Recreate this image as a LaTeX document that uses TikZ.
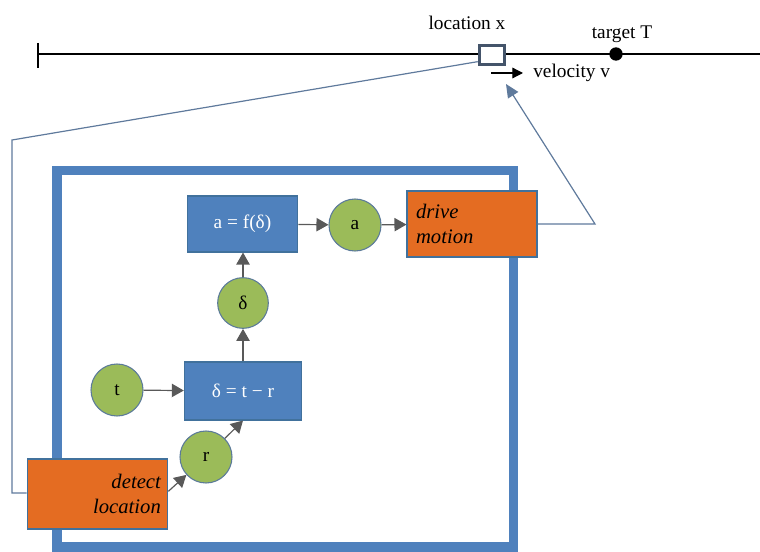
\documentclass[tikz,border=0pt]{standalone}
\usepackage{fontspec}
\setmainfont{Liberation Serif}
\usetikzlibrary{arrows.meta}
\definecolor{boxblue}{HTML}{4F81BD}
\definecolor{boxborder}{HTML}{41719C}
\definecolor{orng}{HTML}{E46C22}
\definecolor{grn}{HTML}{9BBB59}
\definecolor{grnborder}{HTML}{5B7A9A}
\definecolor{arrgray}{HTML}{595959}
\definecolor{fbline}{HTML}{5F7A9C}
\definecolor{locbox}{HTML}{44546A}
\tikzset{
  txt/.style={font=\fontsize{14.5}{17}\selectfont},
  bluebox/.style={txt, draw=boxborder, fill=boxblue, text=white, minimum width=#1, line width=0.8pt, inner sep=0pt},
  orbox/.style={txt, draw=boxborder, fill=orng, font=\fontsize{15.5}{19}\selectfont\itshape, line width=0.8pt, inner sep=0pt},
  var/.style={txt, circle, draw=grnborder, fill=grn, minimum size=39pt, inner sep=0pt, line width=0.8pt},
  flow/.style={draw=arrgray, line width=0.9pt, -{Triangle[length=9pt,width=10pt]}},
  fb/.style={draw=fbline, line width=0.9pt},
}
\begin{document}
\begin{tikzpicture}[x=0.75pt,y=-0.75pt]
\useasboundingbox (0,0) rectangle (760,552);
% number line
\coordinate (L0) at (38,54);
\coordinate (L1) at (760,54);
\draw[line width=0.9pt] (L0) -- (L1);
\draw[line width=0.9pt] (38,43) -- (38,68);
\node[draw=locbox, fill=white, line width=2.4pt, minimum width=19pt, minimum height=14pt, inner sep=0pt] (loc) at (492,55) {};
\node[txt, anchor=base] (locl) at (467,30) {location x};
\node[circle, fill=black, minimum size=10pt, inner sep=0pt] (tgt) at (616,54) {};
\node[txt, anchor=base] (tgtl) at (622,39) {target T};
\coordinate (v0) at (491,73);
\coordinate (v1) at (523,73);
\draw[line width=0.9pt, -{Triangle[length=8pt,width=8pt]}] (v0) -- (v1);
\node[txt, anchor=base west, inner sep=0pt] (vl) at (533,78) {velocity v};
% frame
\draw[boxblue, line width=7pt] (57,170.5) rectangle (513.5,547);
% nodes
\node[bluebox=83pt, minimum height=42pt] (fbox) at (242.5,224) {a = f(δ)};
\node[var] (ca) at (355,225) {a};
\node[orbox, minimum width=97.5pt, minimum height=49.5pt, align=left, text width=84pt] (drive) at (472,224) {drive\\motion};
\node[var, minimum size=38pt] (cd) at (243,303) {δ};
\node[bluebox=88pt, minimum height=43.5pt] (dbox) at (243,391) {δ = t − r};
\node[var] (ct) at (117,390) {t};
\node[var] (cr) at (206,457) {r};
\node[orbox, minimum width=105.5pt, minimum height=52.5pt, align=right, text width=95pt] (detect) at (97.5,494) {detect\\location};
% arrows
\draw[flow] (fbox) -- (ca);
\draw[flow] (ca) -- (drive);
\draw[flow] (cd) -- (cd |- fbox.south);
\draw[flow] (dbox) -- (cd);
\draw[flow] (ct) -- (dbox);
\draw[flow] (cr) -- (dbox.south);
\coordinate (dout) at ([yshift=2pt]detect.east);
\draw[flow] (dout) -- (cr);
% feedback lines
\coordinate (c1) at (12,140);
\coordinate (c2) at (12,493);
\coordinate (c3) at (595,224);
\coordinate (tip) at (506,84);
\coordinate (lout) at ([yshift=-5pt]loc.west);
\draw[fb] (lout) -- (c1) -- (c2) -- (c2 -| detect.west);
\draw[fb, -{Triangle[length=10pt,width=9pt]}] (drive.east) -- (c3) -- (tip);
\end{tikzpicture}
\end{document}
